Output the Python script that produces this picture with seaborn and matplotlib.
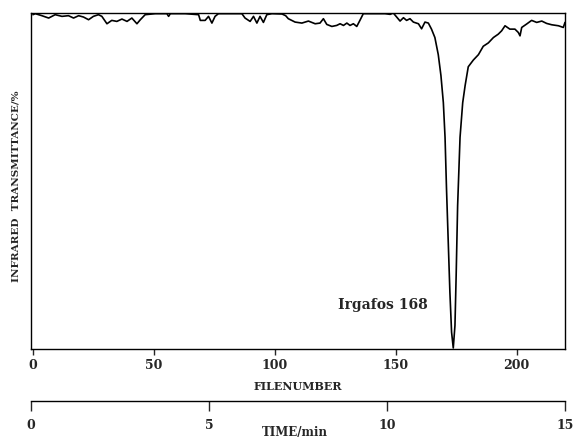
import matplotlib
matplotlib.use("Agg")
import matplotlib.pyplot as plt
import seaborn as sns
import pandas as pd

# ---- data ----
filenumber = [0, 1, 3.7, 6.5, 9.2, 12, 14.7, 16.8, 18.9, 20.9, 23, 25, 27.1, 28.5,
              30.6, 32.6, 34.7, 36.8, 38.9, 40.9, 43, 44.4, 46.4, 50.6, 55.4, 56.1,
              56.8, 63, 68.5, 69.2, 71.2, 72.6, 74, 75.3, 76.7, 86.4, 87.7, 89.8,
              91.2, 92.6, 93.9, 95.3, 96.7, 98.8, 103, 104.5, 105.6, 108.4, 111.2,
              113.9, 116.7, 118.7, 120.1, 121.5, 123.6, 125.6, 127, 128.4, 129.8,
              131.1, 132.5, 133.9, 135.2, 136.6, 142.8, 145.6, 147.7, 149, 150.4,
              151.8, 153.2, 154.5, 155.9, 157.3, 159.4, 160.7, 162.1, 163.5, 164.8,
              166.2, 167.6, 168.7, 169.7, 170.4, 171, 171.7, 172.4, 173.1, 173.8,
              174.5, 175, 175.6, 176.6, 177.7, 178.7, 180, 182.1, 184.2, 186.2,
              188.3, 190.4, 192.4, 193.8, 195.2, 197.2, 199.3, 200.7, 201.4, 202.1,
              204.1, 206.2, 208.3, 210.4, 212.4, 214.5, 217.3, 219.3, 220]
transmittance = [99.5, 99.8, 99.2, 98.5, 99.5, 99.0, 99.2, 98.5, 99.2, 98.8, 98.0, 99.0,
                 99.5, 99.0, 96.8, 97.8, 97.5, 98.2, 97.5, 98.5, 96.8, 98.0, 99.5, 99.8,
                 99.8, 99.0, 99.8, 99.8, 99.5, 97.8, 97.8, 99.0, 97.0, 99.0, 99.8, 99.8,
                 98.5, 97.5, 99.0, 97.0, 99.0, 97.2, 99.5, 99.8, 99.7, 99.2, 98.3, 97.3,
                 97.0, 97.6, 96.8, 97.0, 98.3, 96.6, 96.0, 96.3, 96.8, 96.3, 97.0, 96.3,
                 96.8, 96.0, 97.8, 99.8, 99.8, 99.8, 99.6, 100, 98.8, 97.6, 98.6, 97.8,
                 98.3, 97.3, 96.8, 95.3, 97.3, 97.0, 95.2, 92.7, 87.6, 81.4, 73.3, 63,
                 47.8, 32.4, 17, 5, 0.3, 7, 22, 42.6, 63, 73.3, 78.4, 84, 86, 87.6, 90.1,
                 91.1, 92.7, 93.7, 94.7, 96.2, 95.2, 95.2, 94.2, 93.2, 95.7, 96.7, 97.8,
                 97.2, 97.6, 96.9, 96.5, 96.2, 95.7, 97.2]
file_ticks = [0, 50, 100, 150, 200]
time_ticks = [0, 5, 10, 15]
peak_label = "Irgafos 168"

df = pd.DataFrame({"file": filenumber, "T": transmittance})

sns.set_style("white")
plt.rcParams["font.family"] = ["DejaVu Serif"]
plt.rcParams["font.weight"] = "bold"

W, H = 577, 440
fig = plt.figure(figsize=(W / 100, H / 100), dpi=100)

L, R, T, B = 31, 565, 13, 349
ax = fig.add_axes([L / W, 1 - B / H, (R - L) / W, (B - T) / H])
sns.lineplot(data=df, x="file", y="T", ax=ax, color="black", linewidth=1.2,
             estimator=None, sort=False)
ax.set_xlim(-0.8, 220)
ax.set_ylim(0, 100)
ax.set_yticks([])
ax.set_xticks(file_ticks)
ax.set_xticklabels([str(t) for t in file_ticks], fontsize=9, fontweight="bold")
ax.tick_params(axis="x", direction="out", length=4, width=1, pad=3.5, bottom=True)
for s in ax.spines.values():
    s.set_visible(True)
    s.set_linewidth(1.0)
    s.set_color("black")
ax.set_ylabel("")
ax.set_xlabel("FILENUMBER", fontsize=8, fontweight="bold")
ax.xaxis.set_label_coords(0.5, (B - 381) / (B - T))

ax.text(126, 13, peak_label, fontsize=10, fontweight="bold", va="center", ha="left")

# time axis
yt = 401
ax2 = fig.add_axes([L / W, 1 - yt / H, (R - L) / W, 0.0001])
ax2.set_xlim(0, 15)
ax2.set_xticks(time_ticks)
ax2.set_xticklabels([str(t) for t in time_ticks], fontsize=9, fontweight="bold")
ax2.set_yticks([])
for k in ["top", "left", "right"]:
    ax2.spines[k].set_visible(False)
ax2.spines["bottom"].set_linewidth(1.0)
ax2.spines["bottom"].set_color("black")
ax2.tick_params(axis="x", direction="out", length=7, width=1, pad=6, bottom=True)
ax2.patch.set_visible(False)

fig.text(295 / W, 1 - 432 / H, "TIME/min", fontsize=8.5, fontweight="bold",
         ha="center", va="center")
fig.text(16 / W, 1 - 186 / H, "INFRARED  TRANSMITTANCE/%", fontsize=7.5,
         fontweight="bold", rotation=90, ha="center", va="center")

fig.savefig("out.png", dpi=100)
